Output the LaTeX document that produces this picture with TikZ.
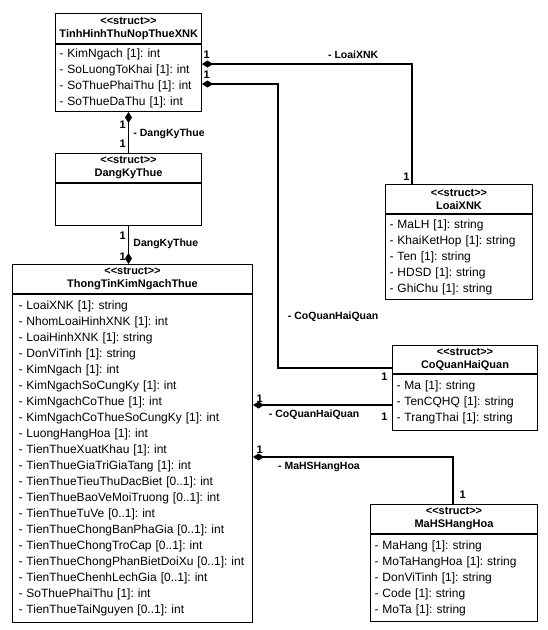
\documentclass[tikz,border=0pt]{standalone}
\usepackage{fontspec}
\setmainfont{Liberation Sans}[Ligatures=TeXOff]
\frenchspacing
\usetikzlibrary{arrows.meta, positioning, calc}
\tikzset{
  every picture/.style={line width=1pt},
  head/.style={draw, text width=#1, align=center, inner xsep=4pt, inner ysep=0pt, minimum height=29pt, font=\bfseries\fontsize{11}{13}\selectfont},
  body/.style={draw, text width=#1, align=left, inner xsep=4pt, inner ysep=0pt, font=\fontsize{12}{16}\selectfont},
  assoc/.style={draw, line width=1.3pt, {Diamond[length=11pt, width=7pt]}-},
  assocend/.style={draw, line width=1.3pt, -{Diamond[length=11pt, width=7pt]}},
  mult/.style={font=\bfseries\fontsize{11}{13}\selectfont, inner sep=0pt},
  lbl/.style={font=\bfseries\fontsize{10.5}{12}\selectfont},
}
\begin{document}
\begin{tikzpicture}[x=1pt, y=-1pt]
  \useasboundingbox (0,0) rectangle (547,630);
  % TinhHinhThuNopThueXNK
  \node[head=138pt, minimum height=30pt, anchor=north west] (h1) at (55,13) {<<struct>>\\TinhHinhThuNopThueXNK};
  \node[body=138pt, minimum height=67pt, below=0pt of h1] (b1) {- KimNgach [1]: int\\- SoLuongToKhai [1]: int\\- SoThuePhaiThu [1]: int\\- SoThueDaThu [1]: int};
  % DangKyThue
  \node[head=138pt, anchor=north west] (h2) at (55,153) {<<struct>>\\DangKyThue};
  \node[body=138pt, minimum height=42pt, below=0pt of h2] (b2) {};
  % ThongTinKimNgachThue
  \node[head=232pt, anchor=north west] (h3) at (12,264) {<<struct>>\\ThongTinKimNgachThue};
  \node[body=228pt, inner xsep=6pt, minimum height=328pt, below=0pt of h3] (b3) {- LoaiXNK [1]: string\\- NhomLoaiHinhXNK [1]: int\\- LoaiHinhXNK [1]: string\\- DonViTinh [1]: string\\- KimNgach [1]: int\\- KimNgachSoCungKy [1]: int\\- KimNgachCoThue [1]: int\\- KimNgachCoThueSoCungKy [1]: int\\- LuongHangHoa [1]: int\\- TienThueXuatKhau [1]: int\\- TienThueGiaTriGiaTang [1]: int\\- TienThueTieuThuDacBiet [0..1]: int\\- TienThueBaoVeMoiTruong [0..1]: int\\- TienThueTuVe [0..1]: int\\- TienThueChongBanPhaGia [0..1]: int\\- TienThueChongTroCap [0..1]: int\\- TienThueChongPhanBietDoiXu [0..1]: int\\- TienThueChenhLechGia [0..1]: int\\- SoThuePhaiThu [1]: int\\- TienThueTaiNguyen [0..1]: int};
  % LoaiXNK
  \node[head=139pt, anchor=north west] (h4) at (385,184) {<<struct>>\\LoaiXNK};
  \node[body=139pt, minimum height=85pt, below=0pt of h4] (b4) {- MaLH [1]: string\\- KhaiKetHop [1]: string\\- Ten [1]: string\\- HDSD [1]: string\\- GhiChu [1]: string};
  % CoQuanHaiQuan
  \node[head=137pt, minimum height=28pt, anchor=north west] (h5) at (392,345) {<<struct>>\\CoQuanHaiQuan};
  \node[body=137pt, minimum height=56pt, below=0pt of h5] (b5) {- Ma [1]: string\\- TenCQHQ [1]: string\\- TrangThai [1]: string};
  % MaHSHangHoa
  \node[head=159pt, anchor=north west] (h6) at (370,504) {<<struct>>\\MaHSHangHoa};
  \node[body=159pt, minimum height=87pt, below=0pt of h6] (b6) {- MaHang [1]: string\\- MoTaHangHoa [1]: string\\- DonViTinh [1]: string\\- Code [1]: string\\- MoTa [1]: string};

  % end points
  \coordinate (s1a) at ($(b1.north east)+(0,20)$);
  \coordinate (s1b) at ($(b1.north east)+(0,40)$);
  \coordinate (k1) at ($(s1b)+(76,0)$);
  \coordinate (t4) at ($(h4.north west)+(27,0)$);
  \coordinate (t5a) at ($(h5.north west)+(0,23)$);
  \coordinate (s3a) at ($(b3.north east)+(0,111)$);
  \coordinate (s3b) at ($(b3.north east)+(0,163)$);
  \coordinate (t6) at ($(h6.north west)+(83,0)$);

  % associations
  \draw[assoc] (b1.south) -- node[mult, pos=0.3, left=2pt]{1} node[lbl, pos=0.53, right=1pt]{- DangKyThue} node[mult, pos=0.77, left=2pt]{1} (h2.north);
  \draw[assocend] (b2.south) -- node[mult, pos=0.25, left=2pt]{1} node[lbl, pos=0.475, right=1pt]{DangKyThue} node[mult, pos=0.8, left=2pt]{1} (b2.south |- h3.north);
  \draw[assoc] (s1a) -| node[lbl, pos=0.36, above=1pt]{- LoaiXNK} (t4);
  \draw[assoc] (s1b) -- (k1) -- node[lbl, pos=0.82, right=6pt]{- CoQuanHaiQuan} (k1 |- t5a) -- (t5a);
  \draw[assoc] (s3a) -- node[lbl, pos=0.44, below=1pt]{- CoQuanHaiQuan} (s3a -| b5.west);
  \draw[assoc] (s3b) -| node[lbl, pos=0.165, below=1pt]{- MaHSHangHoa} (t6);

  % multiplicities
  \node[mult, above right=5pt and 1pt of s1a] (m1) {1};
  \node[mult, above right=5pt and 1pt of s1b] (m2) {1};
  \node[mult, above left=3pt and 2pt of t4] (m3) {1};
  \node[mult, below left=4pt and 4pt of t5a] (m4) {1};
  \node[mult, above right=2pt and 3pt of s3a] (m5) {1};
  \node[mult, below left=7pt and 4pt of s3a -| b5.west] (m6) {1};
  \node[mult, above right=3pt and 3pt of s3b] (m7) {1};
  \node[mult, above right=5pt and 6pt of t6] (m8) {1};
\end{tikzpicture}
\end{document}
